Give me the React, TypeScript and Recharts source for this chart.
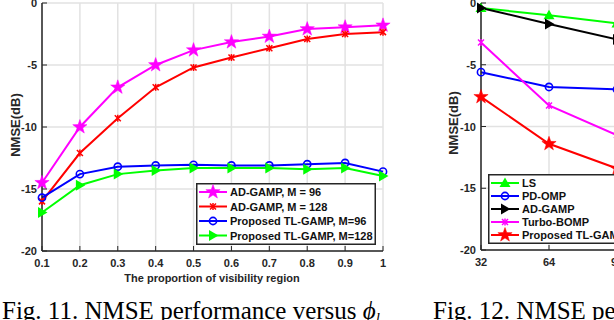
import { LineChart, Line, XAxis, YAxis, CartesianGrid } from 'recharts';

// Fig. 11 data: NMSE (dB) vs proportion of visibility region
const visibility = [0.1, 0.2, 0.3, 0.4, 0.5, 0.6, 0.7, 0.8, 0.9, 1.0];
const adGamp96 = [-14.5, -10.0, -6.8, -5.0, -3.8, -3.15, -2.7, -2.1, -1.95, -1.8];
const adGamp128 = [-16.0, -12.1, -9.3, -6.8, -5.2, -4.4, -3.65, -2.9, -2.5, -2.35];
const tlGamp96 = [-15.7, -13.8, -13.2, -13.1, -13.05, -13.1, -13.1, -13.0, -12.9, -13.6];
const tlGamp128 = [-16.9, -14.7, -13.8, -13.5, -13.3, -13.3, -13.3, -13.4, -13.3, -13.95];
const visTicks = [0.1, 0.2, 0.3, 0.4, 0.5, 0.6, 0.7, 0.8, 0.9, 1];

// Fig. 12 data: NMSE (dB) vs number of antennas (only first points visible)
const antennas = [32, 64, 96];
const lsVals = [-0.4, -1.0, -1.65];
const pdOmpVals = [-5.6, -6.8, -7.0];
const adGampVals = [-0.4, -1.7, -2.95];
const turboVals = [-3.2, -8.3, -10.7];
const tlGampVals = [-7.6, -11.4, -13.4];
const antTicks = [32, 64, 96, 128, 160];

const nmseTicks = [-20, -15, -10, -5, 0];

const fig11 = visibility.map((x, i) => ({
  x,
  ad96: adGamp96[i],
  ad128: adGamp128[i],
  tl96: tlGamp96[i],
  tl128: tlGamp128[i],
}));

const fig12 = antennas.map((x, i) => ({
  x,
  ls: lsVals[i],
  pd: pdOmpVals[i],
  ad: adGampVals[i],
  turbo: turboVals[i],
  tl: tlGampVals[i],
}));

const AXIS = '#262626';
const GRID = '#e2e2e2';
const FONT = '"Liberation Sans", Arial, Helvetica, sans-serif';

type Shape = 'star' | 'asterisk' | 'circle' | 'triRight' | 'triUp';

function starPoints(cx: number, cy: number, R: number) {
  const r = R * 0.4;
  const pts: string[] = [];
  for (let k = 0; k < 10; k++) {
    const a = -Math.PI / 2 + (k * Math.PI) / 5;
    const rad = k % 2 === 0 ? R : r;
    pts.push(`${cx + rad * Math.cos(a)},${cy + rad * Math.sin(a)}`);
  }
  return pts.join(' ');
}

function Marker({ shape, cx, cy, color }: { shape: Shape; cx: number; cy: number; color: string }) {
  switch (shape) {
    case 'star':
      return <polygon points={starPoints(cx, cy, 7.5)} fill={color} stroke={color} strokeWidth={0.5} />;
    case 'asterisk':
      return (
        <g stroke={color} strokeWidth={1.5}>
          <line x1={cx - 3} y1={cy - 3} x2={cx + 3} y2={cy + 3} />
          <line x1={cx - 3} y1={cy + 3} x2={cx + 3} y2={cy - 3} />
          <line x1={cx} y1={cy - 3.5} x2={cx} y2={cy + 3.5} />
        </g>
      );
    case 'circle':
      return <circle cx={cx} cy={cy} r={3.6} fill="none" stroke={color} strokeWidth={1.6} />;
    case 'triRight':
      return <polygon points={`${cx + 5.5},${cy} ${cx - 4},${cy - 5.5} ${cx - 4},${cy + 5.5}`} fill={color} />;
    case 'triUp':
      return <polygon points={`${cx},${cy - 5.5} ${cx - 5.5},${cy + 4} ${cx + 5.5},${cy + 4}`} fill={color} />;
  }
  return null;
}

const makeDot = (shape: Shape, color: string) => (props: any) => (
  <Marker key={`${shape}-${props.index}`} shape={shape} cx={props.cx} cy={props.cy} color={color} />
);

const tickText = { fontFamily: FONT, fontSize: 11, fontWeight: 700, fill: AXIS };

const BottomTick = (props: any) => {
  const { x, y, payload } = props;
  return (
    <g>
      <line x1={x} y1={y} x2={x} y2={y - 5} stroke={AXIS} strokeWidth={1} />
      <text x={x} y={y + 16} textAnchor="middle" {...tickText}>{payload.value}</text>
    </g>
  );
};
const TopTick = (props: any) => (
  <line x1={props.x} y1={props.y} x2={props.x} y2={props.y + 5} stroke={AXIS} strokeWidth={1} />
);
const LeftTick = (props: any) => {
  const { x, y, payload } = props;
  return (
    <g>
      <line x1={x} y1={y} x2={x + 5} y2={y} stroke={AXIS} strokeWidth={1} />
      <text x={x - 5} y={y + 4} textAnchor="end" {...tickText}>{payload.value}</text>
    </g>
  );
};
const RightTick = (props: any) => (
  <line x1={props.x} y1={props.y} x2={props.x - 5} y2={props.y} stroke={AXIS} strokeWidth={1} />
);

const axisLine = { stroke: AXIS, strokeWidth: 1.5 };

type Entry = { label: string; color: string; shape: Shape };

function LegendBox({ left, top, width, height, rowTop, rowGap, entries }: {
  left: number; top: number; width: number; height: number; rowTop: number; rowGap: number; entries: Entry[];
}) {
  return (
    <svg width={width} height={height} style={{ position: 'absolute', left, top, overflow: 'visible' }}>
      <rect x={0.75} y={0.75} width={width - 1.5} height={height - 1.5} fill="#fff" stroke={AXIS} strokeWidth={1.5} />
      {entries.map((e, i) => {
        const cy = rowTop + i * rowGap;
        return (
          <g key={e.label}>
            <line x1={3} y1={cy} x2={31} y2={cy} stroke={e.color} strokeWidth={2} />
            <Marker shape={e.shape} cx={17} cy={cy} color={e.color} />
            <text x={34} y={cy + 4} {...tickText} fill="#111">{e.label}</text>
          </g>
        );
      })}
    </svg>
  );
}

const yTitle = (left: number, top: number) => (
  <div
    style={{
      position: 'absolute', left, top, transform: 'translate(-50%, -50%) rotate(-90deg)',
      fontFamily: FONT, fontSize: 13, fontWeight: 700, color: AXIS, whiteSpace: 'nowrap',
    }}
  >
    NMSE(dB)
  </div>
);

const caption = { position: 'absolute' as const, top: 298, fontFamily: '"Liberation Serif", "Times New Roman", serif', fontSize: 25, lineHeight: '25px', color: '#000', whiteSpace: 'nowrap' as const };

export default function App() {
  return (
    <div style={{ position: 'fixed', left: 0, top: 0, width: 614, height: 320, overflow: 'hidden', background: '#fff' }}>
      {/* Fig. 11 */}
      <div style={{ position: 'absolute', left: 0, top: 0 }}>
        <LineChart width={400} height={320} data={fig11} margin={{ top: 3, right: 17, bottom: 0, left: 0 }}>
          <CartesianGrid stroke={GRID} strokeWidth={1.5} />
          <XAxis dataKey="x" type="number" domain={[0.1, 1]} ticks={visTicks} height={69}
            axisLine={axisLine} tickLine={false} tickSize={0} tickMargin={0} tick={BottomTick} interval={0} />
          <XAxis xAxisId="top" orientation="top" dataKey="x" type="number" domain={[0.1, 1]} ticks={visTicks} height={0}
            axisLine={axisLine} tickLine={false} tickSize={0} tickMargin={0} tick={TopTick} interval={0} />
          <YAxis type="number" domain={[-20, 0]} ticks={nmseTicks} width={42}
            axisLine={axisLine} tickLine={false} tickSize={0} tickMargin={0} tick={LeftTick} interval={0} />
          <YAxis yAxisId="right" orientation="right" type="number" domain={[-20, 0]} ticks={nmseTicks} width={0}
            axisLine={axisLine} tickLine={false} tickSize={0} tickMargin={0} tick={RightTick} interval={0} />
          <Line dataKey="ad96" stroke="#ff00ff" strokeWidth={2} dot={makeDot('star', '#ff00ff')} isAnimationActive={false} />
          <Line dataKey="ad128" stroke="#ff0000" strokeWidth={2} dot={makeDot('asterisk', '#ff0000')} isAnimationActive={false} />
          <Line dataKey="tl96" stroke="#0000ff" strokeWidth={2} dot={makeDot('circle', '#0000ff')} isAnimationActive={false} />
          <Line dataKey="tl128" stroke="#00ff00" strokeWidth={2} dot={makeDot('triRight', '#00ff00')} isAnimationActive={false} />
        </LineChart>
      </div>
      <LegendBox left={196} top={183} width={180} height={62} rowTop={9} rowGap={14.5}
        entries={[
          { label: 'AD-GAMP, M = 96', color: '#ff00ff', shape: 'star' },
          { label: 'AD-GAMP, M = 128', color: '#ff0000', shape: 'asterisk' },
          { label: 'Proposed TL-GAMP, M=96', color: '#0000ff', shape: 'circle' },
          { label: 'Proposed TL-GAMP, M=128', color: '#00ff00', shape: 'triRight' },
        ]} />
      {yTitle(15, 125)}
      <div style={{ position: 'absolute', left: 212, top: 278, transform: 'translate(-50%, -50%)', fontFamily: FONT, fontSize: 11, fontWeight: 700, color: AXIS, whiteSpace: 'nowrap' }}>
        The proportion of visibility region
      </div>
      <div style={{ ...caption, left: 2 }}>
        Fig. 11. NMSE performance versus <i>ϕ</i><sub style={{ fontSize: 15, verticalAlign: '-4px' }}><i>l</i></sub>
      </div>

      {/* Fig. 12 */}
      <div style={{ position: 'absolute', left: 430, top: 0 }}>
        <LineChart width={340} height={320} data={fig12} margin={{ top: 3, right: 17, bottom: 0, left: 0 }}>
          <CartesianGrid stroke={GRID} strokeWidth={1.5} />
          <XAxis dataKey="x" type="number" domain={[32, 160]} ticks={antTicks} height={70}
            axisLine={axisLine} tickLine={false} tickSize={0} tickMargin={0} tick={BottomTick} interval={0} />
          <XAxis xAxisId="top" orientation="top" dataKey="x" type="number" domain={[32, 160]} ticks={antTicks} height={0}
            axisLine={axisLine} tickLine={false} tickSize={0} tickMargin={0} tick={TopTick} interval={0} />
          <YAxis type="number" domain={[-20, 0]} ticks={nmseTicks} width={51}
            axisLine={axisLine} tickLine={false} tickSize={0} tickMargin={0} tick={LeftTick} interval={0} />
          <YAxis yAxisId="right" orientation="right" type="number" domain={[-20, 0]} ticks={nmseTicks} width={0}
            axisLine={axisLine} tickLine={false} tickSize={0} tickMargin={0} tick={RightTick} interval={0} />
          <Line dataKey="ls" stroke="#00ff00" strokeWidth={2} dot={makeDot('triUp', '#00ff00')} isAnimationActive={false} />
          <Line dataKey="pd" stroke="#0000ff" strokeWidth={2} dot={makeDot('circle', '#0000ff')} isAnimationActive={false} />
          <Line dataKey="ad" stroke="#000000" strokeWidth={2} dot={makeDot('triRight', '#000000')} isAnimationActive={false} />
          <Line dataKey="turbo" stroke="#ff00ff" strokeWidth={2} dot={makeDot('asterisk', '#ff00ff')} isAnimationActive={false} />
          <Line dataKey="tl" stroke="#ff0000" strokeWidth={2} dot={makeDot('star', '#ff0000')} isAnimationActive={false} />
        </LineChart>
      </div>
      <LegendBox left={488} top={174} width={160} height={70} rowTop={9} rowGap={13}
        entries={[
          { label: 'LS', color: '#00ff00', shape: 'triUp' },
          { label: 'PD-OMP', color: '#0000ff', shape: 'circle' },
          { label: 'AD-GAMP', color: '#000000', shape: 'triRight' },
          { label: 'Turbo-BOMP', color: '#ff00ff', shape: 'asterisk' },
          { label: 'Proposed TL-GAMP', color: '#ff0000', shape: 'star' },
        ]} />
      {yTitle(453, 123)}
      <div style={{ ...caption, left: 433 }}>
        Fig. 12. NMSE performance
      </div>
    </div>
  );
}
